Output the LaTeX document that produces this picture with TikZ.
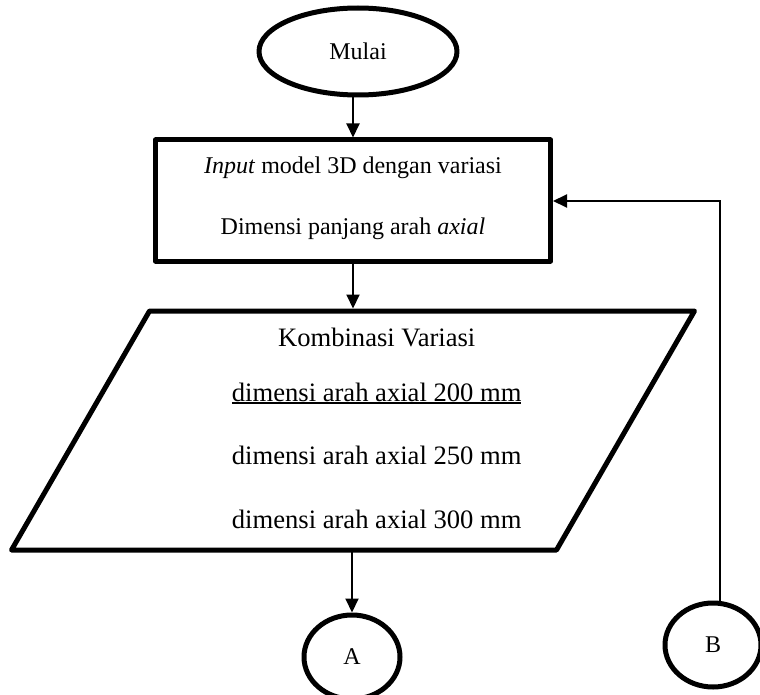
\documentclass[tikz,border=0pt]{standalone}
\usepackage{fontspec}
\setmainfont{Liberation Serif}
\usetikzlibrary{shapes.geometric,arrows.meta}

% solid underline drawn as a rule under the whole line
\newcommand\ulinetext[1]{\setbox0\hbox{#1}\rlap{\rule[-3.3bp]{\wd0}{2.4bp}}\box0}

\tikzset{
  shapeline/.style={draw=black, line width=5bp, line join=round, fill=white},
  terminal/.style={shapeline, ellipse, inner sep=0pt},
  connector/.style={terminal, minimum width=96bp, minimum height=84bp,
                    font=\fontsize{24bp}{28bp}\selectfont},
  process/.style={shapeline, rectangle, inner sep=0pt, align=center},
  flow/.style={draw=black, line width=2bp,
               -{Triangle[length=14bp,width=13bp]}},
}

\begin{document}
\begin{tikzpicture}[x=1bp, y=-1bp]
  \useasboundingbox (0,0) rectangle (760,695);

  % start terminal
  \node[terminal, minimum width=198bp, minimum height=87bp,
        font=\fontsize{24bp}{28bp}\selectfont] (mulai) at (358,51.5) {Mulai};

  % input process box
  \node[process, minimum width=395bp, minimum height=121bp,
        font=\fontsize{24bp}{61bp}\selectfont] (input) at (353,200.5)
    {\textit{Input} model 3D dengan variasi\\
     Dimensi panjang arah \textit{axial}\rule[-9.4bp]{0pt}{9.4bp}};

  % data parallelogram with its corner points
  \coordinate (pTL) at (149.5,311);
  \coordinate (pTR) at (694.5,311);
  \coordinate (pBR) at (556.5,550);
  \coordinate (pBL) at (11.5,550);
  \draw[shapeline] (pTL) -- (pTR) -- (pBR) -- (pBL) -- cycle;
  \coordinate (paratop) at (352,308.5);
  \coordinate (parabot) at (352,550);

  \node[align=center, inner sep=0pt,
        font=\fontsize{26.6bp}{63.5bp}\selectfont] (combo) at (376.7,428.3)
    {Kombinasi Variasi\\[-9.2bp]
     \ulinetext{dimensi arah axial 200 mm}\\
     dimensi arah axial 250 mm\\
     dimensi arah axial 300 mm};

  % off-page connectors
  \node[connector] (A) at (352,657) {A};
  \node[connector] (B) at (713,645) {B};

  % flow lines
  \coordinate (loop) at (720,201);
  \draw[flow] (mulai.south -| input.north) -- (input.north);
  \draw[flow] (input.south) -- (input.south |- paratop);
  \draw[flow] (parabot) -- (A.north);
  \draw[flow] (B.north -| loop) -- (loop) -- (loop -| input.east);
\end{tikzpicture}
\end{document}
